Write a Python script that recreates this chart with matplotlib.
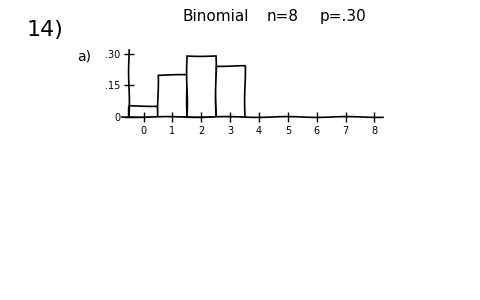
import matplotlib
matplotlib.use("Agg")
import matplotlib.pyplot as plt

# values
outcomes = [0, 1, 2, 3]
probs = [0.05, 0.20, 0.29, 0.24]
x_ticks = [0, 1, 2, 3, 4, 5, 6, 7, 8]
y_ticks = [0, 0.15, 0.30]
y_labels = ["0", ".15", ".30"]

plt.rcParams["font.family"] = ["DejaVu Sans"]

fig = plt.figure(figsize=(4.8, 3.0), dpi=100)
fig.patch.set_facecolor("white")

ax = fig.add_axes([0.254, 0.61, 0.544, 0.225])
bars = ax.bar(outcomes, probs, width=1.0, facecolor="white", edgecolor="black", linewidth=1.2)
for b in bars:
    b.set_sketch_params(0.4, 60, 1)

ax.set_xlim(-0.75, 8.3)
ax.set_ylim(0, 0.32)
ax.spines["top"].set_visible(False)
ax.spines["right"].set_visible(False)
ax.spines["left"].set_position(("data", -0.5))
for s in ("left", "bottom"):
    ax.spines[s].set_linewidth(1.2)
    ax.spines[s].set_sketch_params(0.4, 60, 1)

ax.set_xticks(x_ticks)
ax.set_xticklabels([str(v) for v in x_ticks], fontsize=7)
ax.set_yticks(y_ticks)
ax.set_yticklabels(y_labels, fontsize=7)
ax.tick_params(axis="both", direction="inout", length=7, width=1.0, pad=3)
ax.set_facecolor("none")

fig.text(0.055, 0.9, "14)", fontsize=16, ha="left", va="center")
fig.text(0.16, 0.81, "a)", fontsize=10, ha="left", va="center")
fig.text(0.38, 0.945, "Binomial", fontsize=11, ha="left", va="center")
fig.text(0.555, 0.945, "n=8", fontsize=11, ha="left", va="center")
fig.text(0.665, 0.945, "p=.30", fontsize=11, ha="left", va="center")

fig.savefig("out.png", dpi=100, facecolor="white")
